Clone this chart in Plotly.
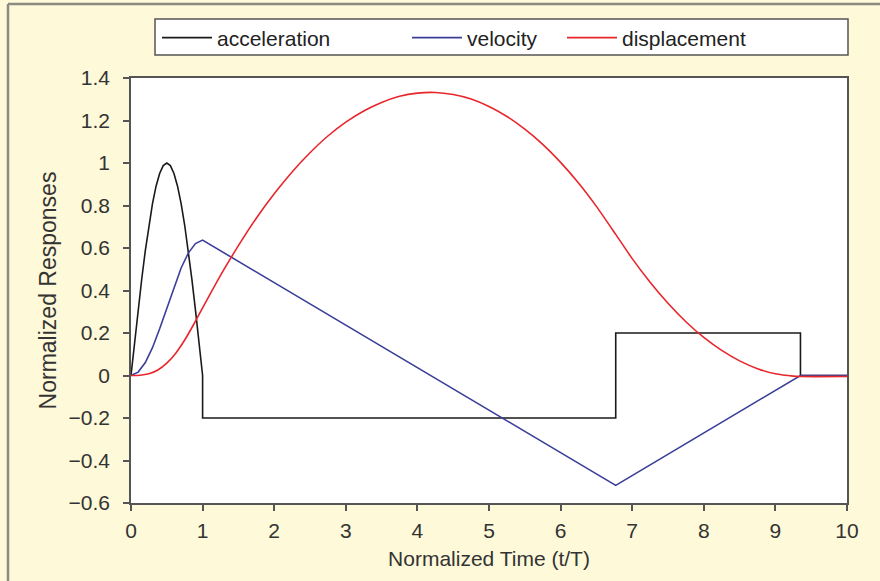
import plotly.graph_objects as go

# Acceleration pulse (half sine over one period) followed by the two constant phases
acc_t = [0, 0.05, 0.1, 0.15, 0.2, 0.25, 0.3, 0.35, 0.4, 0.45, 0.5,
         0.55, 0.6, 0.65, 0.7, 0.75, 0.8, 0.85, 0.9, 0.95, 1.0,
         1.0, 6.77, 6.77, 9.35, 9.35, 10]
acc_v = [0, 0.156, 0.309, 0.454, 0.588, 0.707, 0.809, 0.891, 0.951, 0.988, 1.0,
         0.988, 0.951, 0.891, 0.809, 0.707, 0.588, 0.454, 0.309, 0.156, 0,
         -0.2, -0.2, 0.2, 0.2, 0, 0]

# Velocity
vel_t = [0, 0.1, 0.2, 0.3, 0.4, 0.5, 0.6, 0.7, 0.8, 0.9, 1.0, 6.77, 9.35, 10]
vel_v = [0, 0.016, 0.061, 0.131, 0.220, 0.318, 0.417, 0.506, 0.576, 0.621, 0.637, -0.517, 0, 0]

# Displacement
disp_t = [0, 0.125, 0.25, 0.375, 0.5, 0.625, 0.75, 0.875, 1.0,
          1.25, 1.5, 1.75, 2.0, 2.25, 2.5, 2.75, 3.0, 3.25, 3.5, 3.75, 4.0,
          4.25, 4.5, 4.75, 5.0, 5.25, 5.5, 5.75, 6.0, 6.25, 6.5, 6.77,
          7.0, 7.25, 7.5, 7.75, 8.0, 8.25, 8.5, 8.75, 9.0, 9.25, 9.35, 10]
disp_v = [0, 0.001, 0.008, 0.026, 0.058, 0.105, 0.167, 0.240, 0.318,
          0.471, 0.611, 0.740, 0.855, 0.958, 1.048, 1.127, 1.192, 1.245, 1.285, 1.314, 1.329,
          1.332, 1.322, 1.301, 1.266, 1.219, 1.159, 1.088, 1.003, 0.906, 0.796, 0.664,
          0.550, 0.439, 0.340, 0.253, 0.179, 0.118, 0.069, 0.032, 0.008, -0.003, -0.005, -0.005]

x_ticks = list(range(0, 11))
y_ticks = [-0.6, -0.4, -0.2, 0, 0.2, 0.4, 0.6, 0.8, 1, 1.2, 1.4]
y_tick_text = ["\u22120.6", "\u22120.4", "\u22120.2", "0", "0.2", "0.4", "0.6", "0.8", "1", "1.2", "1.4"]

FONT = "Liberation Sans, Arial, sans-serif"
PAPER = "#FEF9D9"
EDGE = "#8C8B82"

fig = go.Figure()
fig.add_trace(go.Scatter(x=acc_t, y=acc_v, mode="lines", name="acceleration",
                         line=dict(color="#1A1A1A", width=1.6), legend="legend"))
fig.add_trace(go.Scatter(x=vel_t, y=vel_v, mode="lines", name="velocity",
                         line=dict(color="#3A3E98", width=1.6), legend="legend2"))
fig.add_trace(go.Scatter(x=disp_t, y=disp_v, mode="lines", name="displacement",
                         line=dict(color="#E8262C", width=1.6, shape="spline", smoothing=0.6),
                         legend="legend3"))

W, H = 880, 581
L, R, T, B = 131, 33, 78, 78
pw, ph = W - L - R, H - T - B


def px(x):
    return (x - L) / pw


def py(y):
    return (H - B - y) / ph


leg_common = dict(orientation="h", yanchor="middle", xanchor="left", y=py(38),
                  bgcolor="rgba(0,0,0,0)", borderwidth=0,
                  font=dict(family=FONT, size=21, color="#222"), itemwidth=50)

shapes = [
    # outer frame (top and left edges)
    dict(type="line", xref="paper", yref="paper", x0=px(8), x1=px(W + 2), y0=py(4), y1=py(4),
         line=dict(color=EDGE, width=2.5)),
    dict(type="line", xref="paper", yref="paper", x0=px(8), x1=px(8), y0=py(4), y1=py(H + 2),
         line=dict(color=EDGE, width=2.5)),
    # legend box
    dict(type="rect", xref="paper", yref="paper", x0=px(155), x1=px(848), y0=py(55), y1=py(19),
         fillcolor="white", line=dict(color="#555", width=1.5), layer="below"),
]

fig.update_layout(
    width=W, height=H,
    margin=dict(l=L, r=R, t=T, b=B),
    paper_bgcolor=PAPER, plot_bgcolor="white",
    font=dict(family=FONT, size=21, color="#333"),
    showlegend=True,
    legend=dict(x=px(157), **leg_common),
    legend2=dict(x=px(407), **leg_common),
    legend3=dict(x=px(562), **leg_common),
    shapes=shapes,
    xaxis=dict(range=[0, 10], tickvals=x_ticks, ticks="outside", ticklen=6, tickwidth=1.5,
               tickcolor="#555", showline=True, linecolor="#555", linewidth=1.5, mirror=True,
               showgrid=False, zeroline=False, ticklabelstandoff=2,
               tickfont=dict(family=FONT, size=21, color="#333"),
               title=dict(text="Normalized Time (t/T)", font=dict(size=21), standoff=10)),
    yaxis=dict(range=[-0.6, 1.4], tickvals=y_ticks, ticktext=y_tick_text, ticks="outside",
               ticklen=6, tickwidth=1.5, tickcolor="#555", showline=True, linecolor="#555",
               linewidth=1.5, mirror=True, showgrid=False, zeroline=False,
               ticklabelstandoff=9, tickfont=dict(family=FONT, size=21, color="#333"),
               title=dict(text="Normalized Responses", font=dict(size=23), standoff=6)),
)

fig.write_html("out.html")
